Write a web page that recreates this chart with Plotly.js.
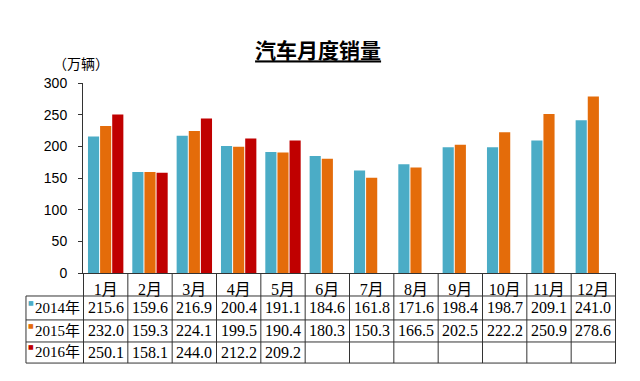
<!DOCTYPE html>
<html><head><meta charset="utf-8">
<script src="https://cdn.plot.ly/plotly-3.0.1.min.js"></script>
<style>html,body{margin:0;padding:0;background:#fff;}#chart{width:640px;height:381px;}</style>
</head><body><div id="chart"></div>
<script>
const months = ['1月','2月','3月','4月','5月','6月','7月','8月','9月','10月','11月','12月'];
const seriesNames = ['2014年','2015年','2016年'];
const sales2014 = [215.6,159.6,216.9,200.4,191.1,184.6,161.8,171.6,198.4,198.7,209.1,241.0];
const sales2015 = [232.0,159.3,224.1,199.5,190.4,180.3,150.3,166.5,202.5,222.2,250.9,278.6];
const sales2016 = [250.1,158.1,244.0,212.2,209.2];
const colors = ['#4bacc6','#e46c0a','#c00000'];
const allSeries = [sales2014, sales2015, sales2016];

const traces = allSeries.map((vals, i) => ({
  type: 'bar', name: seriesNames[i], x: months.slice(0, vals.length), y: vals,
  marker: {color: colors[i]}, hoverinfo: 'x+y'
}));

// table geometry (paper coords)
const rowLines = [-0.121, -0.247, -0.363, -0.474];
const rowCenters = [-0.184, -0.305, -0.418];
const leftEdge = -0.107;
const lineStyle = {color: '#333', width: 1};
const shapes = [];
rowLines.forEach(y => shapes.push({type:'line', xref:'paper', yref:'paper', x0:leftEdge, x1:1, y0:y, y1:y, line:lineStyle}));
for (let k = 0; k <= months.length; k++) {
  shapes.push({type:'line', xref:'x', yref:'paper', x0:k-0.5, x1:k-0.5, y0:0, y1:rowLines[3], line:lineStyle});
}
shapes.push({type:'line', xref:'paper', yref:'paper', x0:leftEdge, x1:leftEdge, y0:rowLines[0], y1:rowLines[3], line:lineStyle});

const tableFont = {family:'Liberation Serif, Noto Sans CJK SC', size:16, color:'#000'};
const labelFont = {family:'Liberation Serif, Noto Sans CJK SC', size:15, color:'#000'};
const annotations = [];
allSeries.forEach((vals, i) => {
  annotations.push({xref:'paper', yref:'paper', x:leftEdge+0.002, y:rowCenters[i]+0.03, xanchor:'left', yanchor:'middle', showarrow:false,
    borderpad:0, text:'■', font:{family:'DejaVu Sans', size:6, color:colors[i]}});
  annotations.push({xref:'paper', yref:'paper', x:leftEdge+0.0145, y:rowCenters[i], xanchor:'left', yanchor:'middle', showarrow:false,
    borderpad:0, text:seriesNames[i], font:labelFont});
  vals.forEach((v, j) => {
    annotations.push({xref:'x', yref:'paper', x:months[j], y:rowCenters[i], xanchor:'center', yanchor:'middle', showarrow:false,
      text:v.toFixed(1), font:tableFont});
  });
});
annotations.push({xref:'paper', yref:'paper', x:-0.004, y:1.105, xanchor:'center', yanchor:'middle', showarrow:false,
  text:'（万辆）', font:{family:'Noto Sans CJK SC', size:14, color:'#000'}});

const layout = {
  width:640, height:381,
  margin:{l:83, r:24, t:83, b:108},
  paper_bgcolor:'#fff', plot_bgcolor:'#fff',
  showlegend:false,
  barmode:'group', bargap:0.18, bargroupgap:0.08,
  title:{text:'<b><u>汽车月度销量</u></b>', x:0.497, xanchor:'center', y:0.866, yanchor:'middle',
    font:{family:'Noto Sans CJK SC', size:21, color:'#000'}},
  xaxis:{type:'category', showline:true, linecolor:'#333', linewidth:1, ticks:'', showgrid:false,
    tickfont:tableFont, ticklabelstandoff:2, fixedrange:true},
  yaxis:{range:[0,300], tickvals:[0,50,100,150,200,250,300], showline:true, linecolor:'#333', linewidth:1,
    ticks:'outside', ticklen:4, tickcolor:'#333', showgrid:false, zeroline:false,
    tickfont:{family:'Liberation Sans, Arial', size:14, color:'#000'}, ticklabelstandoff:8, fixedrange:true},
  shapes:shapes, annotations:annotations
};
Plotly.newPlot('chart', traces, layout, {displayModeBar:false, staticPlot:true});
</script></body></html>
